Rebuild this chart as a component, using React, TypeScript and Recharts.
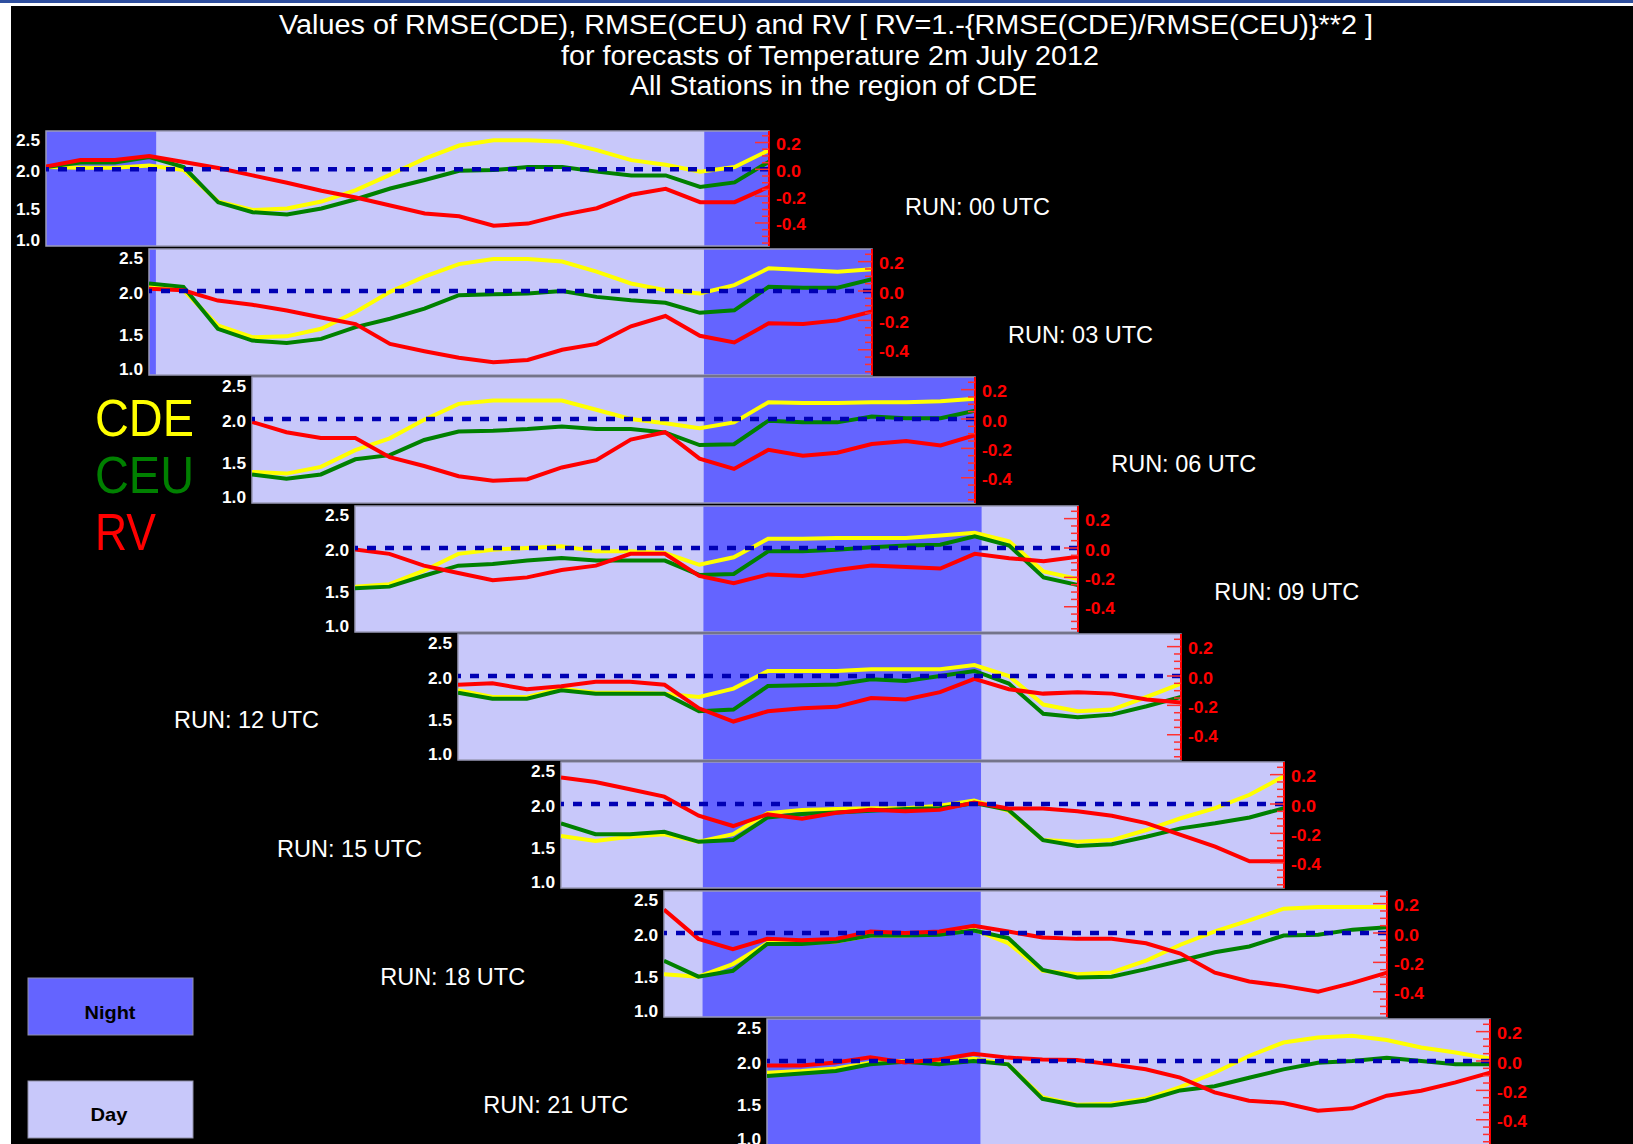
import { ComposedChart, Line, XAxis, YAxis, ReferenceArea, ReferenceLine } from 'recharts';

// forecast runs (UTC) and lead hours shown in every panel
const RUNS = [0, 3, 6, 9, 12, 15, 18, 21];
const RUN_LABELS = ['00', '03', '06', '09', '12', '15', '18', '21'];
const LEAD_HOURS = [0, 1, 2, 3, 4, 5, 6, 7, 8, 9, 10, 11, 12, 13, 14, 15, 16, 17, 18, 19, 20, 21];

// night periods in UTC hours (valid time)
const NIGHTS = [[-3, 3.2], [19.12, 27.2], [43.12, 51.2]];

const LEFT_TICKS = [1.0, 1.5, 2.0, 2.5];
const RV_TICKS = [-0.55, -0.5, -0.45, -0.4, -0.35, -0.3, -0.25, -0.2, -0.15, -0.1, -0.05, 0, 0.05, 0.1, 0.15, 0.2, 0.25];
const RV_LABELS = [-0.4, -0.2, 0, 0.2];

// RMSE(CDE)
const CDE_00 = [2.03, 2.02, 2.02, 2.05, 1.99, 1.58, 1.47, 1.49, 1.58, 1.73, 1.93, 2.14, 2.31, 2.38, 2.38, 2.36, 2.25, 2.12, 2.06, 1.97, 2.03, 2.25];
const CDE_03 = [2.07, 2.01, 1.59, 1.45, 1.46, 1.55, 1.75, 1.99, 2.17, 2.32, 2.38, 2.38, 2.35, 2.23, 2.09, 2.01, 1.97, 2.07, 2.27, 2.25, 2.23, 2.26];
const CDE_06 = [1.37, 1.35, 1.43, 1.63, 1.77, 1.99, 2.18, 2.22, 2.22, 2.22, 2.11, 2.0, 1.95, 1.89, 1.96, 2.2, 2.19, 2.19, 2.2, 2.2, 2.21, 2.24];
const CDE_09 = [1.54, 1.57, 1.73, 1.93, 1.98, 2.0, 2.02, 1.96, 1.96, 1.94, 1.8, 1.89, 2.11, 2.11, 2.12, 2.12, 2.12, 2.15, 2.18, 2.08, 1.72, 1.63];
const CDE_12 = [1.83, 1.75, 1.75, 1.85, 1.8, 1.8, 1.79, 1.75, 1.85, 2.06, 2.06, 2.06, 2.08, 2.08, 2.08, 2.13, 2.0, 1.66, 1.58, 1.6, 1.75, 1.91];
const CDE_15 = [1.62, 1.56, 1.61, 1.64, 1.55, 1.64, 1.89, 1.93, 1.94, 1.95, 1.95, 1.98, 2.04, 1.92, 1.57, 1.55, 1.57, 1.69, 1.83, 1.95, 2.11, 2.33];
const CDE_18 = [1.51, 1.48, 1.63, 1.88, 1.88, 1.9, 1.97, 1.97, 1.99, 2.04, 1.88, 1.55, 1.51, 1.53, 1.67, 1.86, 2.02, 2.15, 2.29, 2.31, 2.31, 2.31];
const CDE_21 = [1.86, 1.88, 1.91, 1.98, 2.0, 1.98, 2.03, 1.96, 1.57, 1.48, 1.49, 1.55, 1.69, 1.86, 2.06, 2.22, 2.28, 2.3, 2.25, 2.16, 2.1, 2.03];

// RMSE(CEU)
const CEU_00 = [2.03, 2.09, 2.09, 2.16, 2.03, 1.57, 1.44, 1.41, 1.49, 1.61, 1.75, 1.86, 1.98, 1.99, 2.03, 2.03, 1.97, 1.92, 1.92, 1.77, 1.83, 2.1];
const CEU_03 = [2.09, 2.05, 1.55, 1.41, 1.38, 1.43, 1.57, 1.67, 1.79, 1.95, 1.96, 1.97, 2.0, 1.93, 1.89, 1.86, 1.74, 1.77, 2.05, 2.04, 2.04, 2.14];
const CEU_06 = [1.34, 1.29, 1.34, 1.52, 1.57, 1.75, 1.85, 1.86, 1.88, 1.91, 1.88, 1.88, 1.84, 1.69, 1.7, 1.98, 1.96, 1.96, 2.03, 2.01, 2.01, 2.1];
const CEU_09 = [1.52, 1.54, 1.67, 1.79, 1.81, 1.85, 1.88, 1.85, 1.85, 1.85, 1.68, 1.69, 1.96, 1.96, 1.98, 2.01, 2.03, 2.04, 2.14, 2.03, 1.65, 1.56];
const CEU_12 = [1.8, 1.73, 1.73, 1.83, 1.79, 1.79, 1.79, 1.58, 1.6, 1.88, 1.89, 1.9, 1.96, 1.94, 2.0, 2.06, 1.91, 1.55, 1.51, 1.54, 1.64, 1.75];
const CEU_15 = [1.77, 1.64, 1.64, 1.67, 1.55, 1.57, 1.84, 1.88, 1.9, 1.92, 1.94, 1.95, 2.01, 1.93, 1.57, 1.5, 1.52, 1.61, 1.71, 1.77, 1.84, 1.95];
const CEU_18 = [1.67, 1.48, 1.55, 1.87, 1.87, 1.9, 1.97, 1.97, 1.98, 2.03, 1.94, 1.56, 1.47, 1.48, 1.57, 1.67, 1.77, 1.84, 1.97, 1.98, 2.04, 2.07];
const CEU_21 = [1.82, 1.85, 1.88, 1.96, 1.99, 1.96, 2.0, 1.96, 1.55, 1.47, 1.47, 1.53, 1.65, 1.7, 1.8, 1.9, 1.98, 2.0, 2.04, 2.0, 1.96, 1.96];

// RV = 1 - (RMSE(CDE)/RMSE(CEU))**2
const RV_00 = [0.02, 0.07, 0.07, 0.1, 0.055, 0.01, -0.045, -0.1, -0.16, -0.21, -0.27, -0.33, -0.35, -0.42, -0.405, -0.34, -0.29, -0.19, -0.145, -0.245, -0.245, -0.13];
const RV_03 = [0.016, 0.005, -0.065, -0.094, -0.133, -0.18, -0.225, -0.36, -0.41, -0.455, -0.485, -0.47, -0.4, -0.36, -0.24, -0.17, -0.305, -0.35, -0.22, -0.225, -0.2, -0.14];
const RV_06 = [-0.02, -0.09, -0.13, -0.13, -0.26, -0.32, -0.39, -0.42, -0.41, -0.33, -0.28, -0.14, -0.09, -0.27, -0.34, -0.21, -0.25, -0.23, -0.17, -0.15, -0.18, -0.11];
const RV_09 = [-0.01, -0.04, -0.12, -0.17, -0.22, -0.2, -0.15, -0.12, -0.04, -0.04, -0.19, -0.24, -0.18, -0.19, -0.15, -0.12, -0.13, -0.14, -0.04, -0.07, -0.09, -0.06];
const RV_12 = [-0.06, -0.05, -0.09, -0.07, -0.04, -0.04, -0.06, -0.22, -0.31, -0.24, -0.22, -0.21, -0.15, -0.16, -0.11, -0.02, -0.09, -0.12, -0.11, -0.12, -0.16, -0.18];
const RV_15 = [0.18, 0.15, 0.1, 0.05, -0.08, -0.15, -0.07, -0.1, -0.06, -0.04, -0.05, -0.04, 0.01, -0.03, -0.03, -0.05, -0.08, -0.13, -0.21, -0.29, -0.39, -0.39];
const RV_18 = [0.16, -0.04, -0.11, -0.04, -0.05, -0.04, 0.01, 0.0, 0.01, 0.05, 0.01, -0.03, -0.04, -0.04, -0.07, -0.14, -0.27, -0.33, -0.36, -0.4, -0.34, -0.27];
const RV_21 = [-0.03, -0.03, -0.01, 0.025, -0.01, 0.01, 0.05, 0.023, 0.011, 0.007, -0.023, -0.056, -0.113, -0.214, -0.27, -0.286, -0.338, -0.322, -0.236, -0.203, -0.146, -0.079];

const CDE = [CDE_00, CDE_03, CDE_06, CDE_09, CDE_12, CDE_15, CDE_18, CDE_21];
const CEU = [CEU_00, CEU_03, CEU_06, CEU_09, CEU_12, CEU_15, CEU_18, CEU_21];
const RV = [RV_00, RV_03, RV_06, RV_09, RV_12, RV_15, RV_18, RV_21];

const NIGHT_FILL = '#6464ff';
const DAY_FILL = '#c8c8fa';
const FONT = '"Liberation Sans", Arial, sans-serif';
const PLOT_W = 723;
const AXIS_W = 50;
const PAD_T = 4;
const PAD_B = 8;

function LeftTick(props: any) {
  const { x, y, payload } = props;
  const v = payload.value;
  let cy = y + 2;
  if (v === 2.5) cy = y + 9;
  if (v === 1) cy = y - 6;
  return (
    <text x={x - 6} y={cy + 5.5} textAnchor="end" fill="#ffffff" fontSize={16} fontWeight="bold" fontFamily={FONT} textLength={24} lengthAdjust="spacingAndGlyphs">
      {v.toFixed(1)}
    </text>
  );
}

function RightTick(props: any) {
  const { x, y, payload } = props;
  const v = payload.value;
  const major = RV_LABELS.some((m) => Math.abs(m - v) < 1e-6);
  const label = v.toFixed(1);
  return (
    <g>
      <line x1={x - (major ? 14 : 7)} x2={x} y1={y} y2={y} stroke="#ff3030" strokeWidth={1.5} />
      {major && (
        <text
          x={x + 7}
          y={y + 7.5}
          fill="#ff0000"
          fontSize={16}
          fontWeight="bold"
          fontFamily={FONT}
          textLength={label.startsWith('-') ? 30 : 25}
          lengthAdjust="spacingAndGlyphs"
        >
          {label}
        </text>
      )}
    </g>
  );
}

function Panel({ idx }: { idx: number }) {
  const run = RUNS[idx];
  const left = 45.5 + 103.1 * idx;
  const top = idx === 0 ? 131 : 249 + 128.3 * (idx - 1);
  const h = idx === 0 ? 115 : 126;
  const x0 = run;
  const x1 = run + 21;
  const data = LEAD_HOURS.map((lh, i) => ({
    t: run + lh,
    cde: CDE[idx][i],
    ceu: CEU[idx][i],
    rv: RV[idx][i],
  }));
  const nights = NIGHTS.map(([a, b]) => [Math.max(a, x0), Math.min(b, x1)]).filter(([a, b]) => b > a);
  const w = PLOT_W + 2 * AXIS_W;

  return (
    <div style={{ position: 'absolute', left: left - AXIS_W, top: top - PAD_T, width: w, height: h + PAD_T + PAD_B }}>
      <ComposedChart
        width={w}
        height={h + PAD_T + PAD_B}
        data={data}
        margin={{ top: PAD_T, right: 0, bottom: PAD_B, left: 0 }}
      >
        <XAxis dataKey="t" type="number" domain={[x0, x1]} hide allowDataOverflow />
        <YAxis
          yAxisId="l"
          domain={[1, 2.5]}
          ticks={LEFT_TICKS}
          width={AXIS_W}
          interval={0}
          tickSize={0}
          tickMargin={0}
          axisLine={false}
          tickLine={false}
          tick={LeftTick}
          allowDataOverflow
        />
        <YAxis
          yAxisId="r"
          orientation="right"
          domain={[-0.572, 0.286]}
          ticks={RV_TICKS}
          width={AXIS_W}
          interval={0}
          tickSize={0}
          tickMargin={0}
          axisLine={{ stroke: '#ff0000', strokeWidth: 2 }}
          tickLine={false}
          tick={RightTick}
          allowDataOverflow
        />
        <ReferenceArea yAxisId="l" x1={x0} x2={x1} y1={1} y2={2.5} fill={DAY_FILL} fillOpacity={1} stroke="none" />
        {nights.map(([a, b], i) => (
          <ReferenceArea key={i} yAxisId="l" x1={a} x2={b} y1={1} y2={2.5} fill={NIGHT_FILL} fillOpacity={1} stroke="none" />
        ))}
        <ReferenceArea yAxisId="l" x1={x0} x2={x1} y1={1} y2={2.5} fill="none" stroke="#9a9ab8" strokeWidth={1.5} />
        <Line yAxisId="l" type="linear" dataKey="cde" stroke="#ffff00" strokeWidth={4} dot={false} isAnimationActive={false} />
        <Line yAxisId="l" type="linear" dataKey="ceu" stroke="#008000" strokeWidth={4} dot={false} isAnimationActive={false} />
        <Line yAxisId="r" type="linear" dataKey="rv" stroke="#ff0000" strokeWidth={4} dot={false} isAnimationActive={false} />
        <ReferenceLine yAxisId="r" y={0} stroke="#0000b4" strokeWidth={4.5} strokeDasharray="9 9" />
      </ComposedChart>
    </div>
  );
}

export default function App() {
  return (
    <div style={{ position: 'absolute', left: 0, top: 0, width: 1633, height: 1144, overflow: 'hidden', background: '#ffffff' }}>
      <svg width={1633} height={1144} style={{ position: 'absolute', left: 0, top: 0 }}>
        <rect x={0} y={0} width={1633} height={3} fill="#2f4f9f" />
        <rect x={11} y={6} width={1622} height={1138} fill="#000000" />
        <g fill="#ffffff" fontFamily={FONT} fontSize={27} textAnchor="middle" style={{ whiteSpace: 'pre' }}>
          <text x={826} y={34} textLength={1094} lengthAdjust="spacingAndGlyphs">
            {'Values of RMSE(CDE), RMSE(CEU) and  RV [ RV=1.-{RMSE(CDE)/RMSE(CEU)}**2 ]'}
          </text>
          <text x={830} y={65} textLength={538} lengthAdjust="spacingAndGlyphs">
            for forecasts of Temperature 2m July 2012
          </text>
          <text x={833.5} y={95} textLength={407} lengthAdjust="spacingAndGlyphs">
            All Stations in the region of CDE
          </text>
        </g>
        <g fontFamily={FONT} fontSize={52}>
          <text x={95} y={436} fill="#ffff00" textLength={99} lengthAdjust="spacingAndGlyphs">CDE</text>
          <text x={95} y={493} fill="#008000" textLength={99} lengthAdjust="spacingAndGlyphs">CEU</text>
          <text x={95} y={550} fill="#ff0000" textLength={61} lengthAdjust="spacingAndGlyphs">RV</text>
        </g>
        <g fontFamily={FONT} fontSize={24} fill="#ffffff">
          {RUN_LABELS.map((r, i) => {
            const x = i < 4 ? 905 + 103.1 * i : 174 + 103.1 * (i - 4);
            const y = 215 + 128.3 * i;
            return (
              <text key={r} x={x} y={y} textLength={145} lengthAdjust="spacingAndGlyphs">
                {`RUN: ${r} UTC`}
              </text>
            );
          })}
        </g>
        <rect x={28} y={978} width={165} height={57} fill={NIGHT_FILL} stroke="#9090a8" strokeWidth={1} />
        <rect x={28} y={1081} width={165} height={57} fill={DAY_FILL} stroke="#9090a8" strokeWidth={1} />
        <g fontFamily={FONT} fontSize={19} fontWeight="bold" fill="#000000" textAnchor="middle">
          <text x={110} y={1019} textLength={51} lengthAdjust="spacingAndGlyphs">Night</text>
          <text x={109} y={1121} textLength={37} lengthAdjust="spacingAndGlyphs">Day</text>
        </g>
      </svg>
      {RUNS.map((r, i) => (
        <Panel key={r} idx={i} />
      ))}
    </div>
  );
}
